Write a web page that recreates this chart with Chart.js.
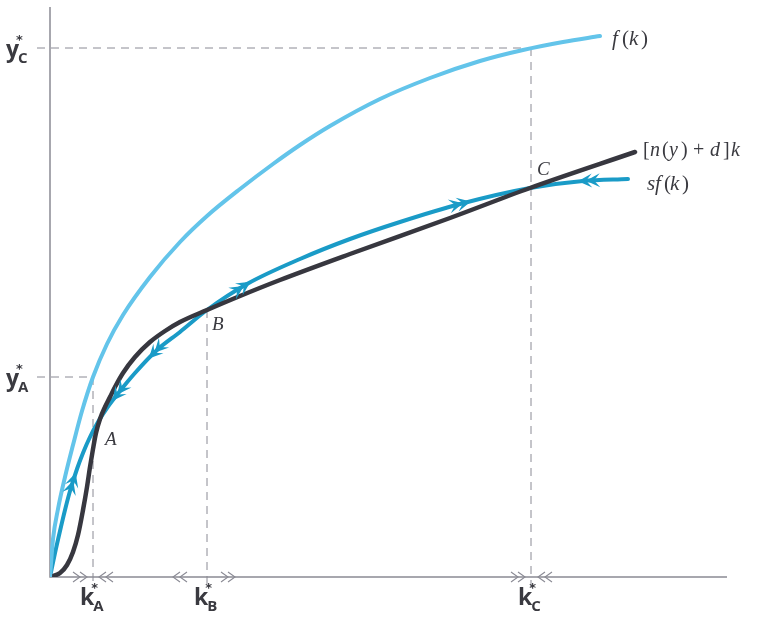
<!DOCTYPE html>
<html lang="en">
  <head>
    <meta charset="utf-8">
    <title>Growth</title>
    <script src="https://cdn.jsdelivr.net/npm/chart.js@4.4.0/dist/chart.umd.min.js"></script>
    <style>
      body { margin: 0; background: #fff; }
      #wrap { width: 757px; height: 624px; }
    </style>
  </head>
  <body>
    <div id="wrap"><canvas id="chart"></canvas></div>

    <script type="text/javascript">

    // f(k)
    var fK = [0, 3, 8, 15, 23, 32, 43, 57, 73, 100, 130, 157, 190, 223, 250, 280, 330, 380, 430, 473, 513, 550]
    var fY = [0, 38, 68, 100, 132, 166, 200, 233, 262, 300, 335, 361, 388, 413, 432, 451, 478, 499, 516, 527, 535, 541]

    // sf(k)
    var sfK = [0, 5, 10, 15, 20, 27, 33, 40, 48, 57, 70, 85, 107, 130, 157, 197, 250, 300, 350, 410, 480, 533, 578]
    var sfY = [0, 24, 46, 67, 86, 108, 124, 140, 155, 169, 186, 204, 227, 245, 267, 293, 318, 338, 355, 373, 389, 396, 398]

    // [n(y) + d]k
    var lineK = [0, 10, 17, 23, 28, 33, 37, 40, 43, 46, 50, 55, 60, 65, 73, 85, 100, 115, 130, 157, 190, 230, 300, 400, 480, 585]
    var lineY = [0, 4, 12, 25, 42, 67, 90, 110, 128, 144, 158, 170, 180, 190, 204, 220, 235, 246, 255, 267, 281, 297, 323, 359, 389, 425]

    // steady states
    var eqNames = ['A', 'B', 'C']
    var eqK = [43, 157, 481]
    var eqY = [140, 267, 389]
    var yStarNames = ['A', 'C']
    var yStarY = [200, 529]

    // direction arrows on sf(k) and on the k axis (1 = right, -1 = left)
    var sfArrowK = [23, 68, 105, 193, 412, 537]
    var sfArrowDir = [1, -1, -1, 1, 1, -1]
    var axisArrowK = [33, 53, 127, 181, 471, 492]
    var axisArrowDir = [1, -1, -1, 1, 1, -1]

    function pts(ks, ys) {
      return ks.map(function (k, i) { return { x: k, y: ys[i] } })
    }

    function sfAt(k) {
      for (var i = 1; i < sfK.length; i++) {
        if (k <= sfK[i]) {
          var t = (k - sfK[i - 1]) / (sfK[i] - sfK[i - 1])
          return sfY[i - 1] + t * (sfY[i] - sfY[i - 1])
        }
      }
      return sfY[sfY.length - 1]
    }

    var fBlue = '#63c4ea'
    var sfBlue = '#1a9bc7'
    var dark = '#37373f'
    var grey = '#8a8a94'

    function dashedLines(chart) {
      var ctx = chart.ctx, xs = chart.scales.x, ys = chart.scales.y
      var x0 = xs.getPixelForValue(0), yb = ys.getPixelForValue(0)
      ctx.save()
      ctx.strokeStyle = grey
      ctx.lineWidth = 1
      ctx.setLineDash([8, 6])
      // y* levels, A and C
      var yk = [eqK[0], eqK[2]]
      yStarY.forEach(function (v, i) {
        var py = ys.getPixelForValue(v)
        ctx.beginPath()
        ctx.moveTo(x0 - 13, py)
        ctx.lineTo(xs.getPixelForValue(yk[i]), py)
        ctx.stroke()
      })
      // k* drop lines
      var tops = [yStarY[0], eqY[1], yStarY[1]]
      eqK.forEach(function (k, i) {
        var px = xs.getPixelForValue(k)
        ctx.beginPath()
        ctx.moveTo(px, ys.getPixelForValue(tops[i]))
        ctx.lineTo(px, yb + 11)
        ctx.stroke()
      })
      ctx.restore()
    }

    function axes(chart) {
      var ctx = chart.ctx, a = chart.chartArea, xs = chart.scales.x, ys = chart.scales.y
      var x0 = xs.getPixelForValue(0), yb = ys.getPixelForValue(0)
      ctx.save()
      ctx.strokeStyle = grey
      ctx.lineWidth = 1.5
      ctx.beginPath()
      ctx.moveTo(x0, a.top)
      ctx.lineTo(x0, yb)
      ctx.lineTo(a.right, yb)
      ctx.stroke()

      // chevrons on the k axis
      ctx.lineWidth = 1.1
      axisArrowK.forEach(function (k, i) {
        var px = xs.getPixelForValue(k), d = axisArrowDir[i]
        for (var j = 0; j < 2; j++) {
          var tip = px + d * (4 - j * 7)
          ctx.beginPath()
          ctx.moveTo(tip - d * 7, yb - 5)
          ctx.lineTo(tip, yb)
          ctx.lineTo(tip - d * 7, yb + 5)
          ctx.stroke()
        }
      })
      ctx.restore()
    }

    function sfArrows(chart) {
      var ctx = chart.ctx, xs = chart.scales.x, ys = chart.scales.y
      ctx.save()
      ctx.fillStyle = sfBlue
      sfArrowK.forEach(function (k, i) {
        var d = sfArrowDir[i]
        var p1x = xs.getPixelForValue(k), p1y = ys.getPixelForValue(sfAt(k))
        var p2x = xs.getPixelForValue(k + d * 3), p2y = ys.getPixelForValue(sfAt(k + d * 3))
        var ang = Math.atan2(p2y - p1y, p2x - p1x)
        ctx.save()
        ctx.translate(p1x, p1y)
        ctx.rotate(ang)
        for (var j = 0; j < 2; j++) {
          var tx = 9 - j * 8
          ctx.beginPath()
          ctx.moveTo(tx, 0)
          ctx.lineTo(tx - 14, -7)
          ctx.lineTo(tx - 8, 0)
          ctx.lineTo(tx - 14, 7)
          ctx.closePath()
          ctx.fill()
        }
        ctx.restore()
      })
      ctx.restore()
    }

    function starLabel(ctx, x, y, letter, sub, bigSize, subSize) {
      ctx.font = 'bold ' + bigSize + 'px "Open Sans", "DejaVu Sans", sans-serif'
      ctx.textBaseline = 'alphabetic'
      ctx.textAlign = 'left'
      ctx.fillText(letter, x, y)
      var w = ctx.measureText(letter).width
      ctx.font = 'bold 13px "DejaVu Sans", sans-serif'
      ctx.fillText('*', x + w - 3, y - bigSize * 0.55)
      ctx.font = 'bold ' + subSize + 'px "Open Sans", "DejaVu Sans", sans-serif'
      ctx.fillText(sub, x + w - 1, y + 6)
    }

    // math text: pieces of [text, italic, x offset]
    function mathText(ctx, x, y, pieces, size) {
      pieces.forEach(function (p) {
        ctx.font = (p[1] ? 'italic ' : '') + size + 'px "Liberation Serif", serif'
        ctx.fillText(p[0], x + p[2], y)
      })
    }

    function labels(chart) {
      var ctx = chart.ctx, xs = chart.scales.x, ys = chart.scales.y
      var x0 = xs.getPixelForValue(0), yb = ys.getPixelForValue(0)
      ctx.save()
      ctx.fillStyle = '#3a3a40'

      // y* labels
      yStarNames.forEach(function (n, i) {
        var py = ys.getPixelForValue(yStarY[i])
        starLabel(ctx, x0 - 44, py + 9, 'y', n, 23, 15)
      })
      // k* labels
      eqNames.forEach(function (n, i) {
        var px = xs.getPixelForValue(eqK[i])
        starLabel(ctx, px - 13, yb + 28, 'k', n, 23, 15)
      })

      // steady state points
      ctx.font = 'italic 19px "Liberation Serif", serif'
      var off = [[12, 8], [5, 20], [6, -13]]
      eqNames.forEach(function (n, i) {
        var px = xs.getPixelForValue(eqK[i]), py = ys.getPixelForValue(eqY[i])
        ctx.fillText(n, px + off[i][0], py + off[i][1])
      })

      // curve names
      var fEnd = fK.length - 1, sfEnd = sfK.length - 1, lEnd = lineK.length - 1
      mathText(ctx, xs.getPixelForValue(fK[fEnd]) + 12, ys.getPixelForValue(fY[fEnd]) + 9,
        [['f', true, 0], ['(', false, 10], ['k', true, 17], [')', false, 29]], 21)
      mathText(ctx, xs.getPixelForValue(sfK[sfEnd]) + 19, ys.getPixelForValue(sfY[sfEnd]) + 11,
        [['s', true, 0], ['f', true, 8], ['(', false, 17], ['k', true, 23], [')', false, 35]], 21)
      mathText(ctx, xs.getPixelForValue(lineK[lEnd]) + 8, ys.getPixelForValue(lineY[lEnd]) + 4,
        [['[', false, 0], ['n', true, 7], ['(', false, 19], ['y', true, 26], [')', false, 38],
         ['+', false, 50], ['d', true, 67], [']', false, 80], ['k', true, 88]], 20)
      ctx.restore()
    }

    var diagram = {
      id: 'diagram',
      beforeDatasetsDraw: function (chart) {
        dashedLines(chart)
        axes(chart)
      },
      afterDatasetsDraw: function (chart) {
        sfArrows(chart)
        labels(chart)
      }
    }

    var ctx = document.getElementById('chart').getContext('2d')
    var chart = new Chart(ctx, {
      type: 'scatter',
      data: {
        datasets: [{
          label: 'f(k)',
          data: pts(fK, fY),
          borderColor: fBlue,
          borderWidth: 4
        }, {
          label: '[n(y) + d]k',
          data: pts(lineK, lineY),
          borderColor: dark,
          borderWidth: 4.5
        }, {
          label: 'sf(k)',
          data: pts(sfK, sfY),
          borderColor: sfBlue,
          borderWidth: 4
        }]
      },
      options: {
        responsive: true,
        maintainAspectRatio: false,
        animation: false,
        showLine: true,
        elements: {
          point: { radius: 0, hoverRadius: 0 },
          line: { cubicInterpolationMode: 'monotone', borderCapStyle: 'round', borderJoinStyle: 'round', fill: false }
        },
        layout: { padding: { left: 50, right: 30, top: 7, bottom: 47 } },
        plugins: { legend: { display: false }, tooltip: { enabled: false } },
        scales: {
          x: { type: 'linear', min: 0, max: 677, display: false },
          y: { type: 'linear', min: 0, max: 570, display: false }
        }
      },
      plugins: [diagram]
    })

    </script>
  </body>
</html>
